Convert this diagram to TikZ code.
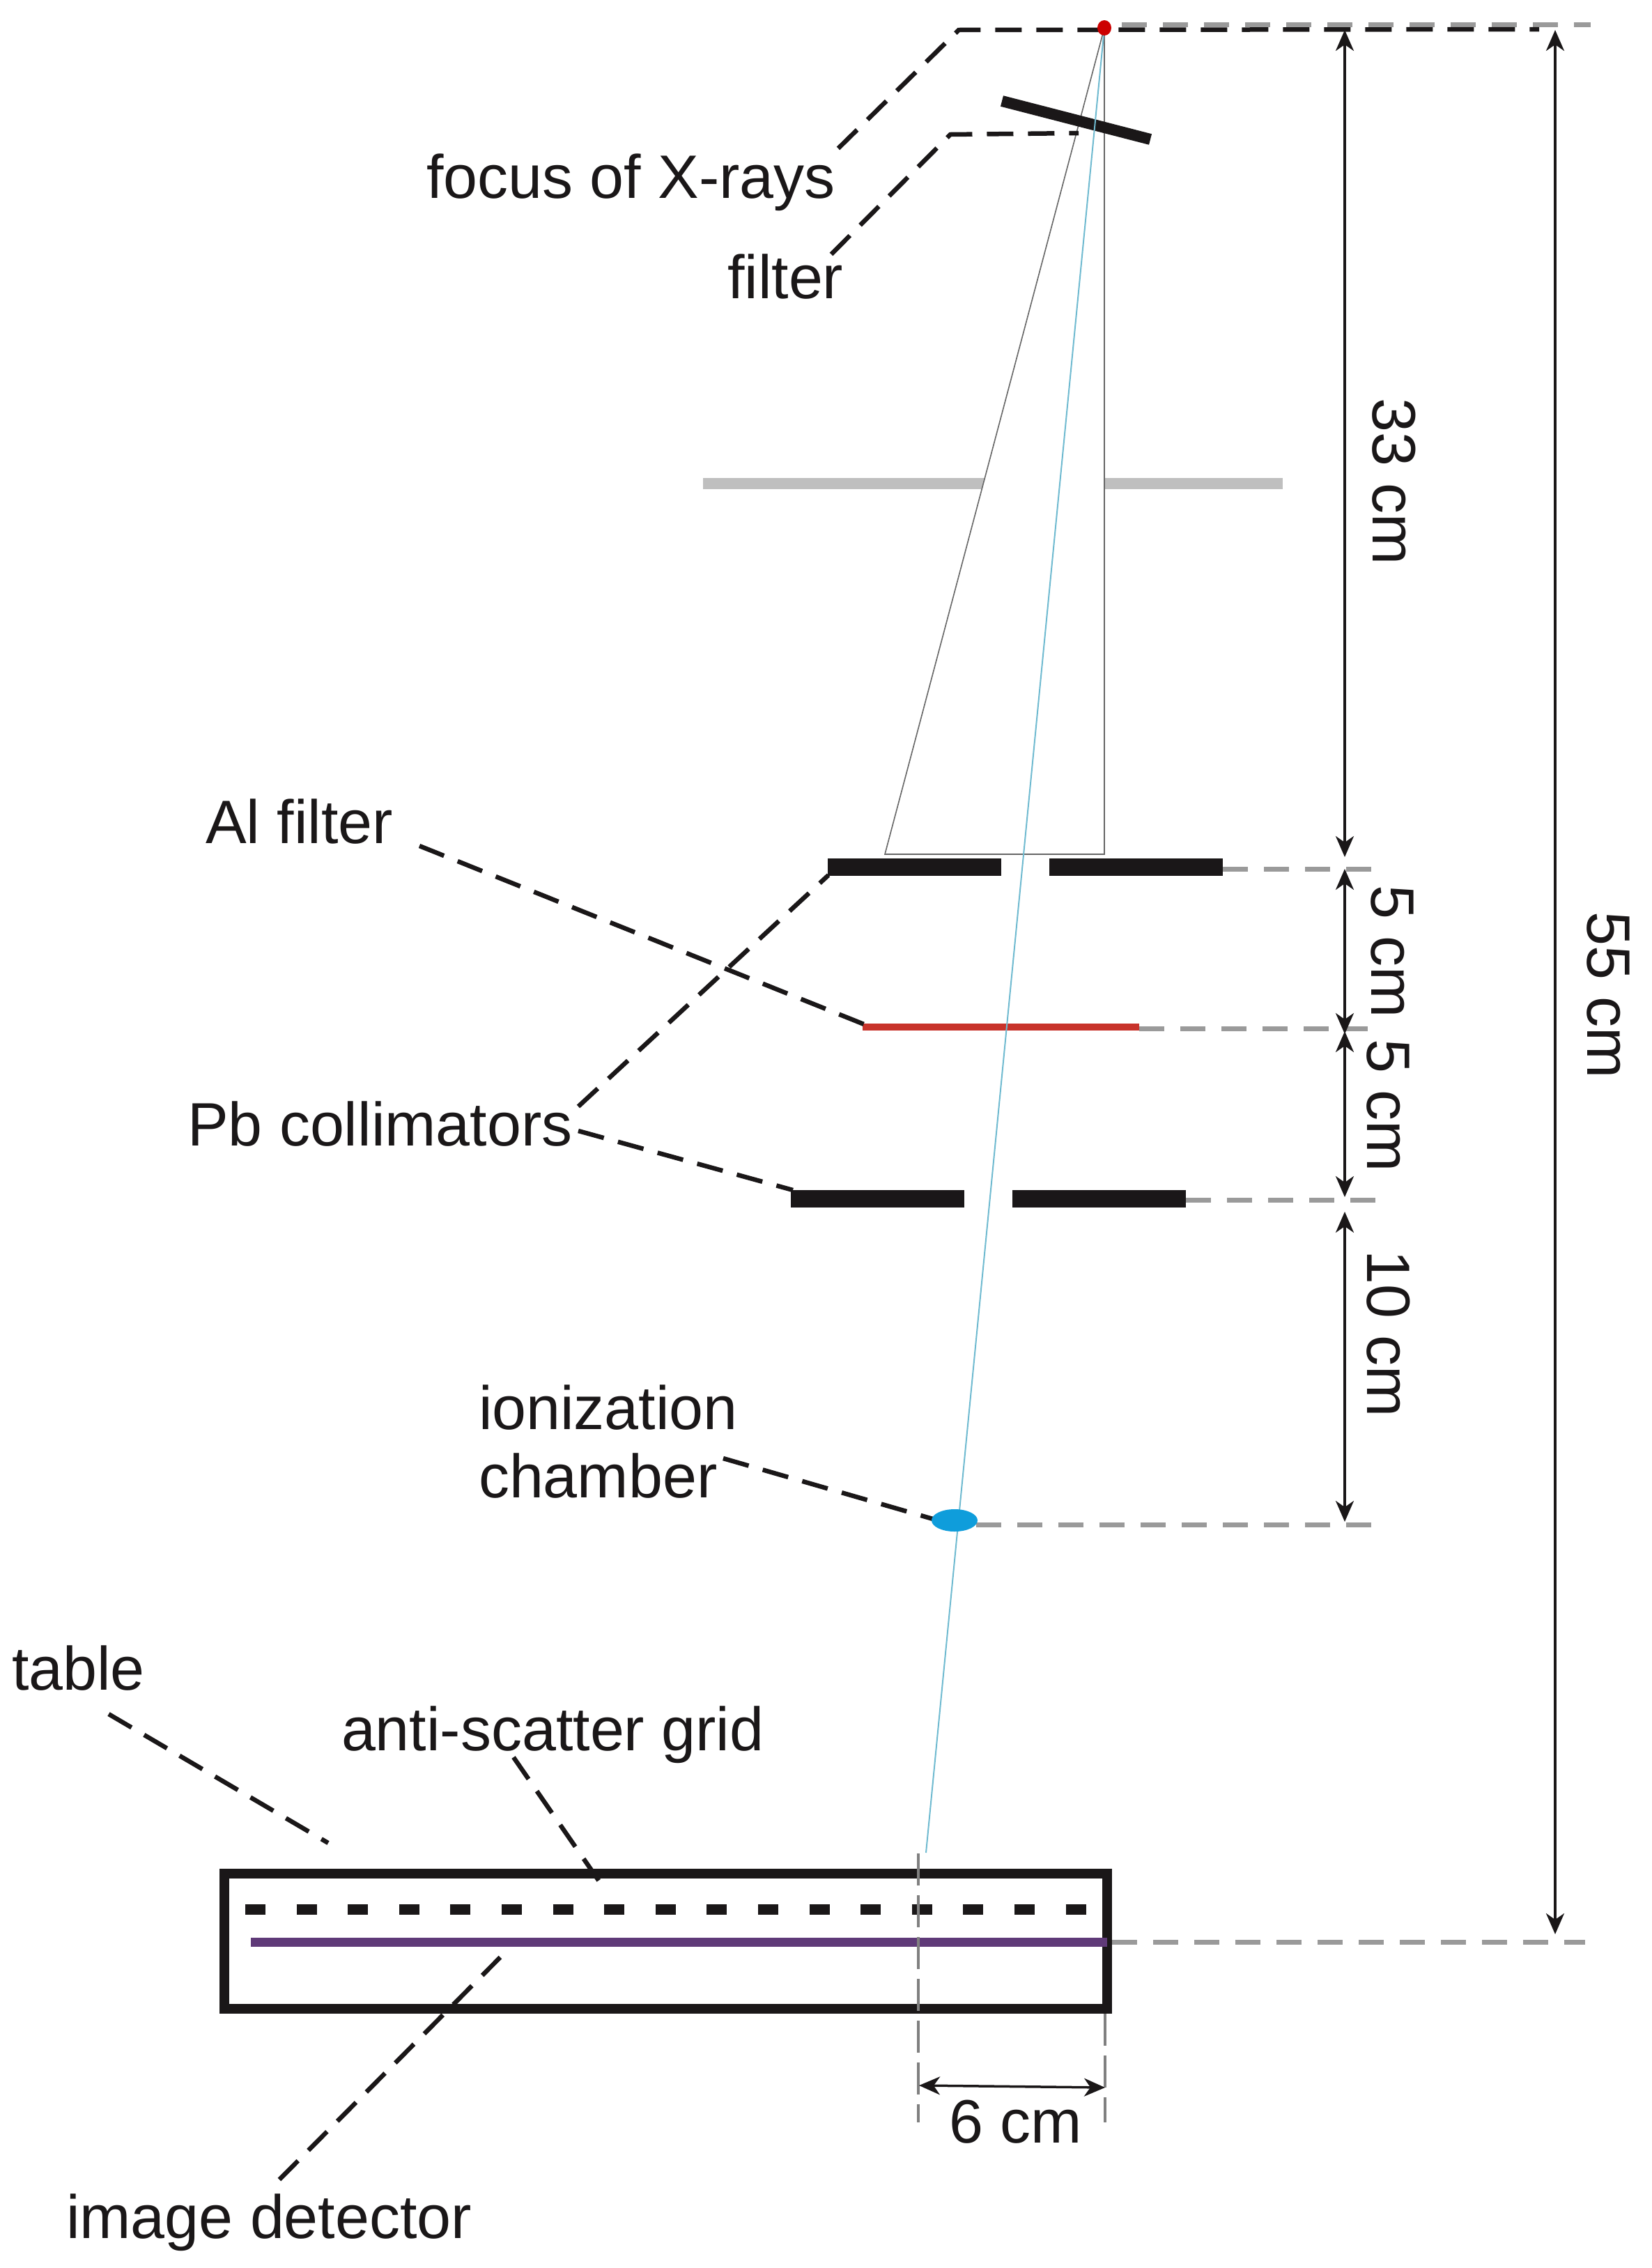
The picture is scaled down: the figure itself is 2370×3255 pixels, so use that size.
\documentclass[tikz,border=0pt]{standalone}
\usepackage{fontspec}
\setmainfont{Liberation Sans}
\usetikzlibrary{arrows.meta}
\definecolor{ink}{HTML}{1A1718}
\definecolor{dimgray}{HTML}{9A9A9A}
\definecolor{beam}{HTML}{6FBAD0}
\definecolor{alred}{HTML}{C8332B}
\definecolor{chamber}{HTML}{0F9DDB}
\definecolor{detector}{HTML}{5F3A78}
\tikzset{
  lab/.style={inner sep=0pt,outer sep=0pt,text=ink,font=\fontsize{88}{100}\selectfont},
  llab/.style={lab,anchor=base west},
  rlab/.style={lab,anchor=base,rotate=-90},
  leader/.style={draw=ink,line width=6.5pt,dash pattern=on 38pt off 21pt},
  ext/.style={draw=dimgray,line width=7pt,dash pattern=on 36pt off 23pt},
  tick/.style={draw=gray,line width=3.5pt,dash pattern=on 46pt off 14pt},
  dim/.style={draw=ink,line width=3.5pt,{Stealth[length=30pt,width=26pt,inset=9pt]}-{Stealth[length=30pt,width=26pt,inset=9pt]}},
  bar/.style={fill=ink,draw=none}
}
\begin{document}
\begin{tikzpicture}[x=1pt,y=-1pt]
\useasboundingbox (0,0) rectangle (2370,3255);
% gray plane
\draw[line width=16pt,gray!50] (1009,694) -- (1841,694);
% beam triangle
\coordinate (F) at (1585,40);
\coordinate (TR) at (1585,1226);
\coordinate (TL) at (1270,1226);
\coordinate (BE) at (1329,2659);
\filldraw[fill=white,draw=black!60,line width=1.6pt] (F) -- (TR) -- (TL) -- cycle;
% collimators
\fill[bar] (1188,1232) rectangle (1437,1257);
\fill[bar] (1506,1232) rectangle (1755,1257);
\fill[bar] (1135,1708) rectangle (1384,1733);
\fill[bar] (1453,1708) rectangle (1702,1733);
\fill[alred] (1238,1469) rectangle (1635,1479);
% extension lines
\coordinate (E0a) at (1610,35); \coordinate (E0b) at (2283,35);
\coordinate (E1a) at (1755,1247); \coordinate (E1b) at (1968,1247);
\coordinate (E2a) at (1635,1476); \coordinate (E2b) at (1963,1476);
\coordinate (E3a) at (1702,1722); \coordinate (E3b) at (1974,1722);
\coordinate (E4a) at (1401,2188); \coordinate (E4b) at (1968,2188);
\coordinate (E5a) at (1596,2787); \coordinate (E5b) at (2275,2787);
\foreach \p in {0,...,5} {\draw[ext] (E\p a) -- (E\p b);}
% table box
\draw[ink,line width=14pt] (322,2689) rectangle (1589,2883);
\coordinate (Ga) at (352,2740); \coordinate (Gb) at (1561,2740);
\draw[ink,line width=15pt,dash pattern=on 29pt off 44.6pt] (Ga) -- (Gb);
\fill[detector] (360,2781) rectangle (1589,2794);
% vertical ticks
\coordinate (Va) at (1318,2660); \coordinate (Vb) at (1318,3046);
\coordinate (Wa) at (1586,2890); \coordinate (Wb) at (1586,3046);
\draw[tick] (Va) -- (Vb);
\draw[tick] (Wa) -- (Wb);
% filter bar
\coordinate (Fa) at (1438,145); \coordinate (Fb) at (1651,200);
\draw[ink,line width=16pt] (Fa) -- (Fb);
% leaders
\coordinate (L1a) at (1203,213); \coordinate (L1b) at (1376,43); \coordinate (L1c) at (2209,42);
\draw[leader] (L1a) -- (L1b) -- (L1c);
\coordinate (L2a) at (1193,365); \coordinate (L2b) at (1364,193); \coordinate (L2c) at (1548,191);
\draw[leader] (L2a) -- (L2b) -- (L2c);
\coordinate (L3a) at (602,1214); \coordinate (L3b) at (1240,1470);
\draw[leader] (L3a) -- (L3b);
\coordinate (L4a) at (830,1588); \coordinate (L4b) at (1189,1256);
\draw[leader] (L4a) -- (L4b);
\coordinate (L5a) at (830,1623); \coordinate (L5b) at (1138,1708);
\draw[leader] (L5a) -- (L5b);
\coordinate (L6a) at (1038,2093); \coordinate (L6b) at (1339,2180);
\draw[leader] (L6a) -- (L6b);
\coordinate (L7a) at (156,2460); \coordinate (L7b) at (471,2645);
\draw[leader] (L7a) -- (L7b);
\coordinate (L8a) at (737,2522); \coordinate (L8b) at (860,2700);
\draw[leader] (L8a) -- (L8b);
\coordinate (L9a) at (401,3128); \coordinate (L9b) at (718,2809);
\draw[leader] (L9a) -- (L9b);
% beam axis
\draw[beam,line width=2pt] (F) -- (BE);
% focus and chamber
\fill[red!80!black] (F) ellipse (10pt and 11pt);
\fill[chamber] (1370,2182) ellipse (33pt and 16pt);
% dimensions
\coordinate (D1) at (1930,43); \coordinate (D2) at (1930,1230);
\coordinate (D3) at (1930,1247); \coordinate (D4) at (1930,1484);
\coordinate (D5) at (1930,1480); \coordinate (D6) at (1930,1718);
\coordinate (D7) at (1930,1739); \coordinate (D8) at (1930,2184);
\coordinate (D9) at (2232,43); \coordinate (D10) at (2232,2776);
\coordinate (D11) at (1319,2993); \coordinate (D12) at (1586,2996);
\draw[dim] (D1) -- (D2);
\draw[dim] (D3) -- (D4);
\draw[dim] (D5) -- (D6);
\draw[dim] (D7) -- (D8);
\draw[dim] (D9) -- (D10);
\draw[dim] (D11) -- (D12);
% labels
\node[llab] (t1) at (612,284) {focus of X-rays};
\node[llab] (t2) at (1044,428) {filter};
\node[llab] (t3) at (295,1210) {Al filter};
\node[llab] (t4) at (269,1644) {Pb collimators};
\node[llab] (t5) at (687,2051) {ionization};
\node[llab] (t6) at (687,2149) {chamber};
\node[llab] (t7) at (17,2425) {table};
\node[llab] (t8) at (490,2512) {anti-scatter grid};
\node[llab] (t9) at (95,3212) {image detector};
\node[llab] (t10) at (1362,3075) {6 cm};
\node[rlab] (r1) at (1970,691) {33 cm};
\node[rlab] (r2) at (1968,1366) {5 cm};
\node[rlab] (r3) at (1962,1587) {5 cm};
\node[rlab] (r4) at (1962,1914) {10 cm};
\node[rlab] (r5) at (2278,1428) {55 cm};
\end{tikzpicture}
\end{document}
